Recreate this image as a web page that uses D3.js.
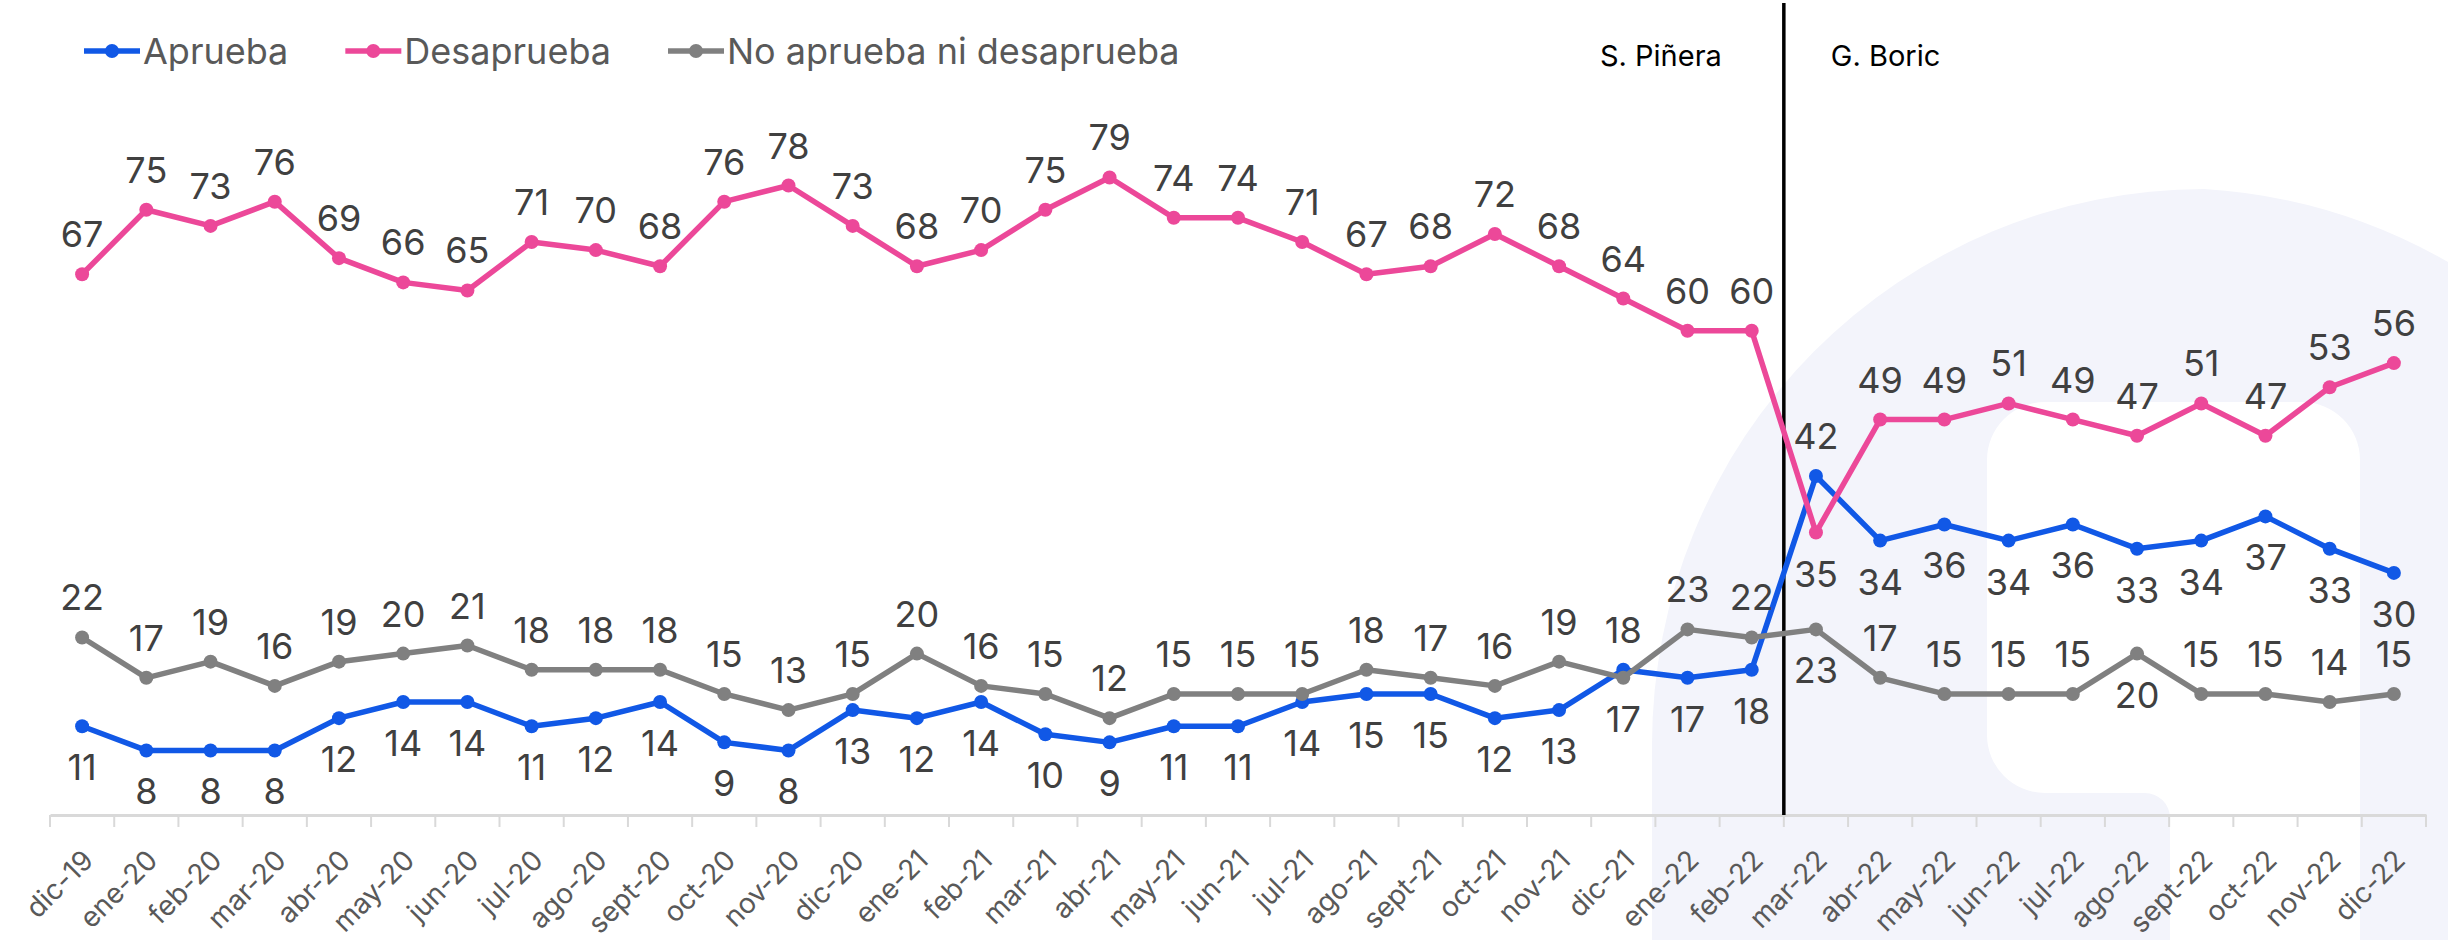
<!DOCTYPE html>
<html lang="es">
<head>
<meta charset="utf-8">
<title>Aprobación</title>
<style>
  body { margin:0; background:#fff; }
  svg { display:block; font-family: Inter, "Noto Sans", sans-serif; }
</style>
</head>
<body>
<svg></svg>
<script src="https://cdn.jsdelivr.net/npm/d3@7/dist/d3.min.js"></script>
<script>
// data
var months = ["dic-19","ene-20","feb-20","mar-20","abr-20","may-20","jun-20","jul-20","ago-20","sept-20",
  "oct-20","nov-20","dic-20","ene-21","feb-21","mar-21","abr-21","may-21","jun-21","jul-21",
  "ago-21","sept-21","oct-21","nov-21","dic-21","ene-22","feb-22","mar-22","abr-22","may-22",
  "jun-22","jul-22","ago-22","sept-22","oct-22","nov-22","dic-22"];
var aprueba = [11,8,8,8,12,14,14,11,12,14, 9,8,13,12,14,10,9,11,11,14, 15,15,12,13,18,17,18, 42,34,36,34,36,33,34,37,33,30];
var desaprueba = [67,75,73,76,69,66,65,71,70,68, 76,78,73,68,70,75,79,74,74,71, 67,68,72,68,64,60,60, 35,49,49,51,49,47,51,47,53,56];
var neutral = [22,17,19,16,19,20,21,18,18,18, 15,13,15,20,16,15,12,15,15,15, 18,17,16,19,17,23,22, 23,17,15,15,15,20,15,15,14,15];
var names = ["Aprueba","Desaprueba","No aprueba ni desaprueba"];
var periods = ["S. Piñera","G. Boric"];
var cutMonth = "mar-22";

var W = 2448, H = 940;
var svg = d3.select("svg").attr("width", W).attr("height", H);

var series = [
  {name: names[0], values: aprueba, color: "#1158e6", above: false, flip: ["dic-21","mar-22"]},
  {name: names[1], values: desaprueba, color: "#ec4899", above: true, flip: ["mar-22"]},
  {name: names[2], values: neutral, color: "#808080", above: true, flip: ["dic-21","mar-22","ago-22"]}
];

// scales
var x = d3.scaleBand().domain(months).range([50, 2426]);
var cx = function(m){ return x(m) + x.bandwidth()/2; };
var y = d3.scaleLinear().domain([0, 100]).range([815, 8]);

// watermark in the background
svg.append("path")
  .attr("d", "M1652,940 L1652,745 A552,556 0 0 1 2204,189 A560,560 0 0 1 2448,262 L2448,940 Z")
  .attr("fill", "#f3f4fb");
svg.append("path")
  .attr("d", "M2170,940 L2170,818 A25,25 0 0 0 2145,793 L2045,793 A58,58 0 0 1 1987,735 L1987,460 A58,58 0 0 1 2045,402 L2302,402 A58,58 0 0 1 2360,460 L2360,940 Z")
  .attr("fill", "#ffffff");

// x axis
var axis = d3.axisBottom(x).tickSizeInner(0).tickSizeOuter(0);
var gx = svg.append("g").attr("transform", "translate(0,815)").call(axis);
gx.select(".domain").attr("stroke", "#d9d9d9").attr("stroke-width", 3);
gx.selectAll(".tick text")
  .attr("x", 0).attr("y", 0).attr("dy", 0)
  .attr("transform", "translate(13,47) rotate(-45)")
  .style("text-anchor", "end")
  .style("font-size", "28px")
  .style("font-family", "Inter, sans-serif")
  .attr("fill", "#595959");

// tick marks between categories
var bounds = months.map(function(m){ return x(m); }).concat([x.range()[1]]);
gx.selectAll(".btick").data(bounds).enter().append("line")
  .attr("class", "btick")
  .attr("x1", function(d){ return d; }).attr("x2", function(d){ return d; })
  .attr("y1", 0).attr("y2", 12)
  .attr("stroke", "#d9d9d9").attr("stroke-width", 2);

// change of government
var xc = x(cutMonth);
svg.append("line")
  .attr("x1", xc).attr("x2", xc).attr("y1", 3).attr("y2", 815)
  .attr("stroke", "#000").attr("stroke-width", 3.5);
svg.append("text").attr("x", xc - 62).attr("y", 66).attr("text-anchor", "end")
  .style("font-size", "29px").attr("fill", "#000").text(periods[0]);
svg.append("text").attr("x", xc + 47).attr("y", 66)
  .style("font-size", "29px").attr("fill", "#000").text(periods[1]);

// lines + points
var line = d3.line()
  .x(function(d, i){ return cx(months[i]); })
  .y(function(d){ return y(d); });

series.forEach(function(s){
  var g = svg.append("g");
  g.append("path").datum(s.values)
    .attr("d", line)
    .attr("fill", "none")
    .attr("stroke", s.color)
    .attr("stroke-width", 5.5)
    .attr("stroke-linejoin", "round");
  g.selectAll("circle").data(s.values).enter().append("circle")
    .attr("cx", function(d, i){ return cx(months[i]); })
    .attr("cy", function(d){ return y(d); })
    .attr("r", 7)
    .attr("fill", s.color);
});

// value labels
series.forEach(function(s){
  svg.append("g").selectAll("text").data(s.values).enter().append("text")
    .attr("x", function(d, i){ return cx(months[i]); })
    .attr("y", function(d, i){
      var up = s.above;
      if (s.flip.indexOf(months[i]) >= 0) up = !up;
      return up ? y(d) - 27 : y(d) + 54;
    })
    .attr("text-anchor", "middle")
    .style("font-size", "36px")
    .attr("fill", "#404040")
    .text(function(d){ return d; });
});

// legend
var lx = 84;
series.forEach(function(s){
  var g = svg.append("g").attr("transform", "translate(" + lx + ",51)");
  g.append("line").attr("x1", 0).attr("x2", 56).attr("y1", 0).attr("y2", 0)
    .attr("stroke", s.color).attr("stroke-width", 5.5);
  g.append("circle").attr("cx", 28).attr("cy", 0).attr("r", 7).attr("fill", s.color);
  var t = g.append("text").attr("x", 59).attr("y", 13)
    .style("font-size", "36px").attr("fill", "#595959").text(s.name);
  lx += 59 + t.node().getComputedTextLength() + 57;
});
</script>
</body>
</html>
